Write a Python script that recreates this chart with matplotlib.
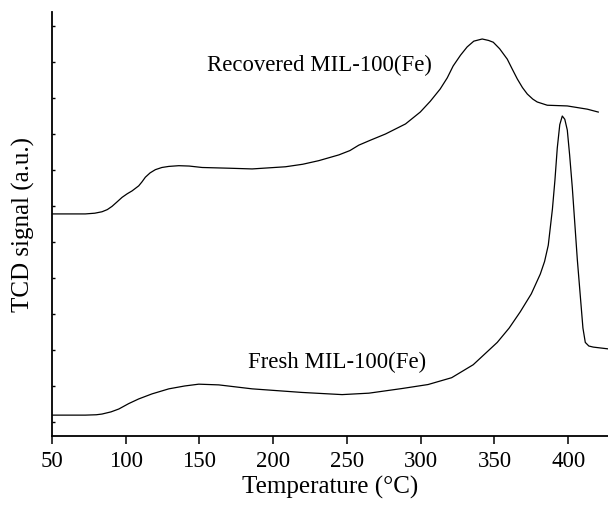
import matplotlib
matplotlib.use("Agg")
import matplotlib.pyplot as plt
import numpy as np

# Temperature (C) and TCD signal (arbitrary units)
recovered_t = [50, 72.6, 79.0, 83.9, 87.5, 90.7, 94.0, 97.5, 101.0, 104.3, 108.8,
               111.0, 113.3, 116.5, 120.1, 124.5, 129.2, 136.0, 143.0, 151.8, 170.0,
               185.7, 208.3, 220.0, 230.9, 244.5, 252.0, 258.0, 266.0, 276.1, 289.7,
               299.7, 306.5, 313.2, 318.0, 322.0, 327.0, 331.5, 336.0, 341.7, 346.0,
               349.2, 353.5, 358.7, 362.0, 365.5, 369.0, 372.3, 376.0, 379.0, 385.8,
               399.4, 413.0, 420.4]
recovered_s = [6.17, 6.17, 6.19, 6.23, 6.29, 6.38, 6.50, 6.63, 6.73, 6.81, 6.95,
               7.06, 7.19, 7.31, 7.40, 7.46, 7.49, 7.51, 7.50, 7.46, 7.44,
               7.42, 7.48, 7.55, 7.65, 7.81, 7.93, 8.08, 8.22, 8.39, 8.67,
               9.00, 9.30, 9.64, 9.95, 10.28, 10.58, 10.81, 10.97, 11.03, 10.99,
               10.94, 10.76, 10.47, 10.20, 9.92, 9.68, 9.50, 9.36, 9.28, 9.19,
               9.17, 9.08, 9.00]

fresh_t = [50, 72.6, 80.0, 83.9, 90.0, 95.3, 102.0, 108.8, 117.8, 129.2, 140.0,
           149.5, 163.1, 185.7, 219.6, 246.7, 264.9, 287.5, 305.0, 321.0, 335.6,
           351.9, 360.0, 367.5, 375.0, 381.1, 384.0, 386.5, 389.3, 391.0, 392.6,
           394.3, 396.0, 397.7, 399.4, 401.0, 402.8, 404.5, 406.2, 408.2, 410.0,
           411.6, 414.0, 417.0, 427.2]
fresh_s = [0.58, 0.58, 0.59, 0.61, 0.67, 0.75, 0.90, 1.03, 1.17, 1.31, 1.39,
           1.44, 1.42, 1.31, 1.21, 1.15, 1.19, 1.32, 1.43, 1.62, 1.98,
           2.60, 3.00, 3.45, 3.95, 4.50, 4.85, 5.30, 6.30, 7.10, 8.00,
           8.65, 8.89, 8.80, 8.50, 7.80, 6.90, 5.90, 4.90, 3.90, 3.00,
           2.60, 2.50, 2.47, 2.42]

x_ticks = [50, 100, 150, 200, 250, 300, 350, 400]
y_ticks = [0.39 + k for k in range(12)]

plt.rcParams['font.family'] = ['Liberation Serif', 'DejaVu Serif']

fig, ax = plt.subplots(figsize=(6.08, 5.06), dpi=100)
fig.subplots_adjust(left=52 / 608, right=1.0, top=1 - 13 / 506, bottom=1 - 437 / 506)

ax.plot(recovered_t, recovered_s, color='black', lw=0.9)
ax.plot(fresh_t, fresh_s, color='black', lw=0.9)

ax.text(231.5, 10.33, 'Recovered MIL-100(Fe)', fontsize=16.4, ha='center', va='center')
ax.text(243.3, 2.08, 'Fresh MIL-100(Fe)', fontsize=16.4, ha='center', va='center')

ax.set_xlim(50, 427)
ax.set_ylim(0, 11.78)
ax.set_xticks(x_ticks)
ax.set_yticks(y_ticks)
ax.set_yticklabels([])

ax.spines['top'].set_visible(False)
ax.spines['right'].set_visible(False)
for s in ['left', 'bottom']:
    ax.spines[s].set_linewidth(1.3)

ax.tick_params(axis='x', direction='out', length=6, width=1.1, labelsize=16.5, pad=4)
ax.tick_params(axis='y', direction='in', length=2.5, width=1.0)

ax.set_xlabel('Temperature (°C)', fontsize=18, labelpad=3)
ax.set_ylabel('TCD signal (a.u.)', fontsize=18, labelpad=9)

plt.savefig('out.png', dpi=100)
